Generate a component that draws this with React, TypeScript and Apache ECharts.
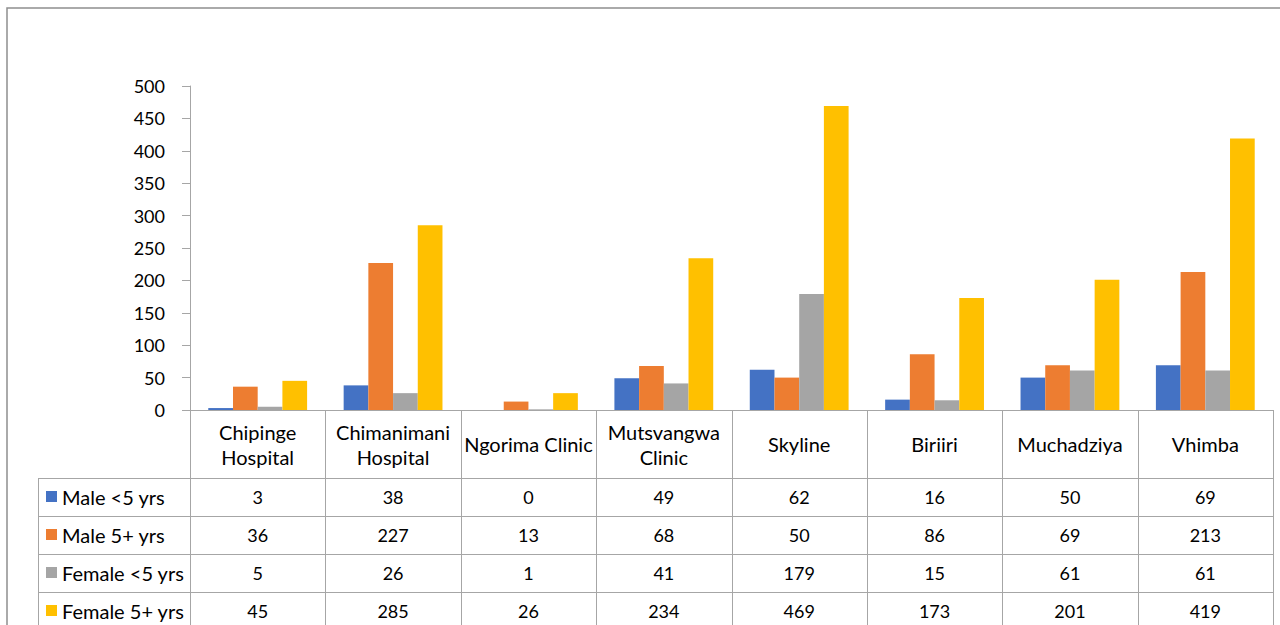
import React, { useEffect, useRef } from "react";
import * as echarts from "echarts";

const categories = [
  "Chipinge\nHospital",
  "Chimanimani\nHospital",
  "Ngorima Clinic",
  "Mutsvangwa\nClinic",
  "Skyline",
  "Biriiri",
  "Muchadziya",
  "Vhimba",
];
const seriesNames = ["Male <5 yrs", "Male 5+ yrs", "Female <5 yrs", "Female 5+ yrs"];
const maleUnder5 = [3, 38, 0, 49, 62, 16, 50, 69];
const male5Plus = [36, 227, 13, 68, 50, 86, 69, 213];
const femaleUnder5 = [5, 26, 1, 41, 179, 15, 61, 61];
const female5Plus = [45, 285, 26, 234, 469, 173, 201, 419];
const seriesValues = [maleUnder5, male5Plus, femaleUnder5, female5Plus];
const colors = ["#4472C4", "#ED7D31", "#A5A5A5", "#FFC000"];
const yMin = 0;
const yMax = 500;
const yInterval = 50;

const FONT = "Lato, 'Open Sans', sans-serif";
const LINE = "#a6a6a6";

export default function App() {
  const ref = useRef<HTMLDivElement>(null);
  useEffect(() => {
    if (!ref.current) return;
    const chart = echarts.init(ref.current, undefined, { renderer: "svg" });
    const gridLeft = 190;
    const gridRight = 7;
    const gridTop = 86;
    const gridBottom = 215;
    chart.setOption({
      animation: false,
      backgroundColor: "#fff",
      grid: { left: gridLeft, right: gridRight, top: gridTop, bottom: gridBottom, containLabel: false },
      xAxis: {
        type: "category",
        data: categories,
        axisLine: { show: true, lineStyle: { color: LINE, width: 1 } },
        axisTick: { show: false },
        axisLabel: { show: false },
        splitLine: { show: false },
      },
      yAxis: {
        type: "value",
        min: yMin,
        max: yMax,
        interval: yInterval,
        axisLine: { show: true, lineStyle: { color: LINE, width: 1 } },
        axisTick: { show: true, length: 8, lineStyle: { color: LINE } },
        axisLabel: { margin: 25, color: "#000", fontSize: 18, fontFamily: FONT },
        splitLine: { show: false },
      },
      series: seriesNames.map((name, i) => ({
        name,
        type: "bar",
        data: seriesValues[i],
        barGap: "0%",
        barCategoryGap: "27%",
        itemStyle: { color: colors[i] },
      })),
    });

    // table built from axis positions
    const baseY = chart.convertToPixel({ yAxisIndex: 0 }, 0) as number;
    const x0 = chart.convertToPixel({ xAxisIndex: 0 }, 0) as number;
    const x1 = chart.convertToPixel({ xAxisIndex: 0 }, 1) as number;
    const cellW = x1 - x0;
    const leftEdge = x0 - cellW / 2;
    const n = categories.length;
    const rightEdge = leftEdge + cellW * n;
    const headerH = 68;
    const rowH = 38;
    const legendLeft = 38;
    const bottomY = 700;
    const els: any[] = [];
    els.push({
      type: "rect",
      shape: { x: 7, y: 8, width: 1300, height: 700 },
      style: { fill: "none", stroke: "#8f8f8f", lineWidth: 1.5 },
      silent: true,
    });
    for (let i = 0; i <= n; i++) {
      const x = Math.round(leftEdge + i * cellW) + 0.5;
      els.push({
        type: "line",
        shape: { x1: x, y1: baseY, x2: x, y2: bottomY },
        style: { stroke: LINE, lineWidth: 1 },
      });
    }
    els.push({
      type: "line",
      shape: { x1: legendLeft + 0.5, y1: baseY + headerH, x2: legendLeft + 0.5, y2: bottomY },
      style: { stroke: LINE, lineWidth: 1 },
    });
    for (let r = 0; r <= seriesNames.length; r++) {
      const y = Math.round(baseY + headerH + r * rowH) + 0.5;
      els.push({
        type: "line",
        shape: { x1: legendLeft, y1: y, x2: rightEdge, y2: y },
        style: { stroke: LINE, lineWidth: 1 },
      });
    }
    categories.forEach((c, i) => {
      const cx = chart.convertToPixel({ xAxisIndex: 0 }, i) as number;
      els.push({
        type: "text",
        x: cx,
        y: baseY + headerH / 2,
        style: {
          text: c,
          fill: "#000",
          font: `20px ${FONT}`,
          align: "center",
          verticalAlign: "middle",
          lineHeight: 25,
        },
      });
    });
    seriesNames.forEach((name, r) => {
      const cy = baseY + headerH + r * rowH + rowH / 2;
      els.push({
        type: "rect",
        shape: { x: legendLeft + 8, y: cy - 6, width: 11, height: 11 },
        style: { fill: colors[r] },
      });
      els.push({
        type: "text",
        x: legendLeft + 24,
        y: cy,
        style: { text: name, fill: "#000", font: `20px ${FONT}`, align: "left", verticalAlign: "middle" },
      });
      seriesValues[r].forEach((v, i) => {
        const cx = chart.convertToPixel({ xAxisIndex: 0 }, i) as number;
        els.push({
          type: "text",
          x: cx,
          y: cy,
          style: { text: String(v), fill: "#000", font: `18px ${FONT}`, align: "center", verticalAlign: "middle" },
        });
      });
    });
    chart.setOption({ graphic: { elements: els } });
    return () => chart.dispose();
  }, []);
  return (
    <div
      ref={ref}
      style={{ position: "fixed", left: 0, top: 0, width: 1280, height: 625, background: "#fff" }}
    />
  );
}
